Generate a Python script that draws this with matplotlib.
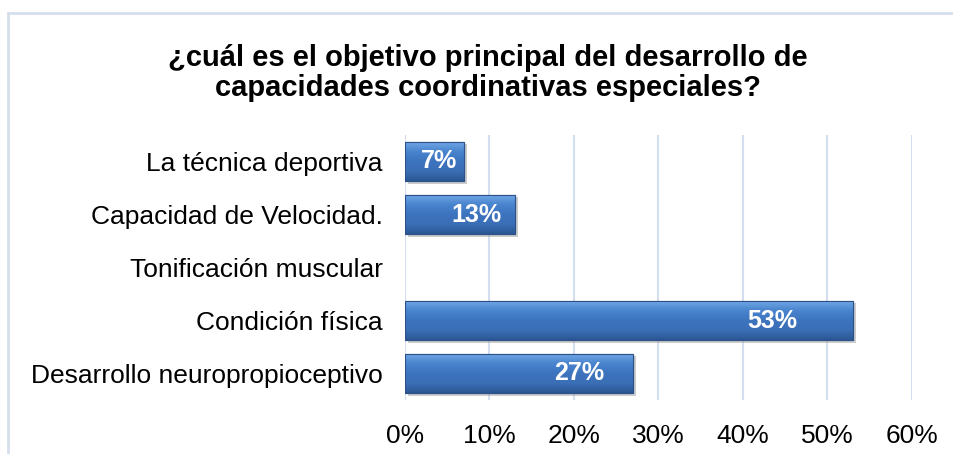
import numpy as np
import matplotlib.pyplot as plt
import matplotlib.patheffects as pe
from matplotlib.colors import LinearSegmentedColormap
from matplotlib.patches import Rectangle

plt.rcParams['font.family'] = ['Liberation Sans', 'DejaVu Sans']

# Datos del gráfico
categorias = ['La técnica deportiva', 'Capacidad de Velocidad.', 'Tonificación muscular',
              'Condición física', 'Desarrollo neuropropioceptivo']
porcentajes = [7, 13, 0, 53, 27]
ticks_x = [0, 10, 20, 30, 40, 50, 60]
titulo = '¿cuál es el objetivo principal del desarrollo de\ncapacidades coordinativas especiales?'

fig = plt.figure(figsize=(9.54, 4.54), dpi=100)

# marco del gráfico (cortado a la derecha y abajo)
fig.patches.append(Rectangle((8 / 954, -0.1), 1.0, (454 - 13) / 454 + 0.1,
                             transform=fig.transFigure, fill=False,
                             edgecolor='#d5dfec', linewidth=2))

ax = fig.add_axes([405 / 954, (454 - 400) / 454, (912 - 405) / 954, (400 - 135) / 454])

y = np.arange(len(categorias))
barras = ax.barh(y, porcentajes, height=0.75, color='#3d72bb', edgecolor='#2b5288',
                 linewidth=0.8, zorder=3)

# degradado tipo bisel en cada barra
grad = LinearSegmentedColormap.from_list('bisel', ['#74aae6', '#4a85cf', '#3d74be', '#3b6fb7', '#2c5792'])
for b in barras:
    if b.get_width() <= 0:
        b.set_linewidth(0)
        continue
    b.set_path_effects([pe.SimplePatchShadow(offset=(2, -2), shadow_rgbFace='#9a9a9a', alpha=0.5),
                        pe.Normal()])
    x0, y0 = b.get_x(), b.get_y()
    w, h = b.get_width(), b.get_height()
    im = ax.imshow(np.linspace(0, 1, 100).reshape(-1, 1), cmap=grad, aspect='auto',
                   extent=(x0, x0 + w, y0 + h, y0), zorder=3.5, interpolation='bicubic')
    im.set_clip_path(b)
    ax.add_patch(Rectangle((x0, y0), w, h, fill=False, edgecolor='#2b5288',
                           linewidth=0.8, zorder=3.6))

for b, v in zip(barras, porcentajes):
    if v <= 0:
        continue
    ax.text(v * 0.875, b.get_y() + b.get_height() / 2, f'{v}%',
            ha='right', va='center', color='white', fontsize=18, fontweight='bold',
            zorder=5)

ax.set_xlim(0, 60)
ax.set_ylim(len(categorias) - 0.5, -0.5)
ax.set_yticks(y)
ax.set_yticklabels(categorias, fontsize=19)
ax.set_xticks(ticks_x)
ax.set_xticklabels([f'{t}%' for t in ticks_x], fontsize=19)
ax.tick_params(axis='y', length=0, pad=16)
ax.tick_params(axis='x', length=0, pad=17)
ax.grid(axis='x', color='#d3def0', linewidth=1.5, zorder=0)
for s in ax.spines.values():
    s.set_visible(False)

fig.text(488 / 954, 1 - 73 / 454, titulo, ha='center', va='center', fontsize=21,
         fontweight='bold', linespacing=1.1)

fig.savefig('out.png', dpi=100)
